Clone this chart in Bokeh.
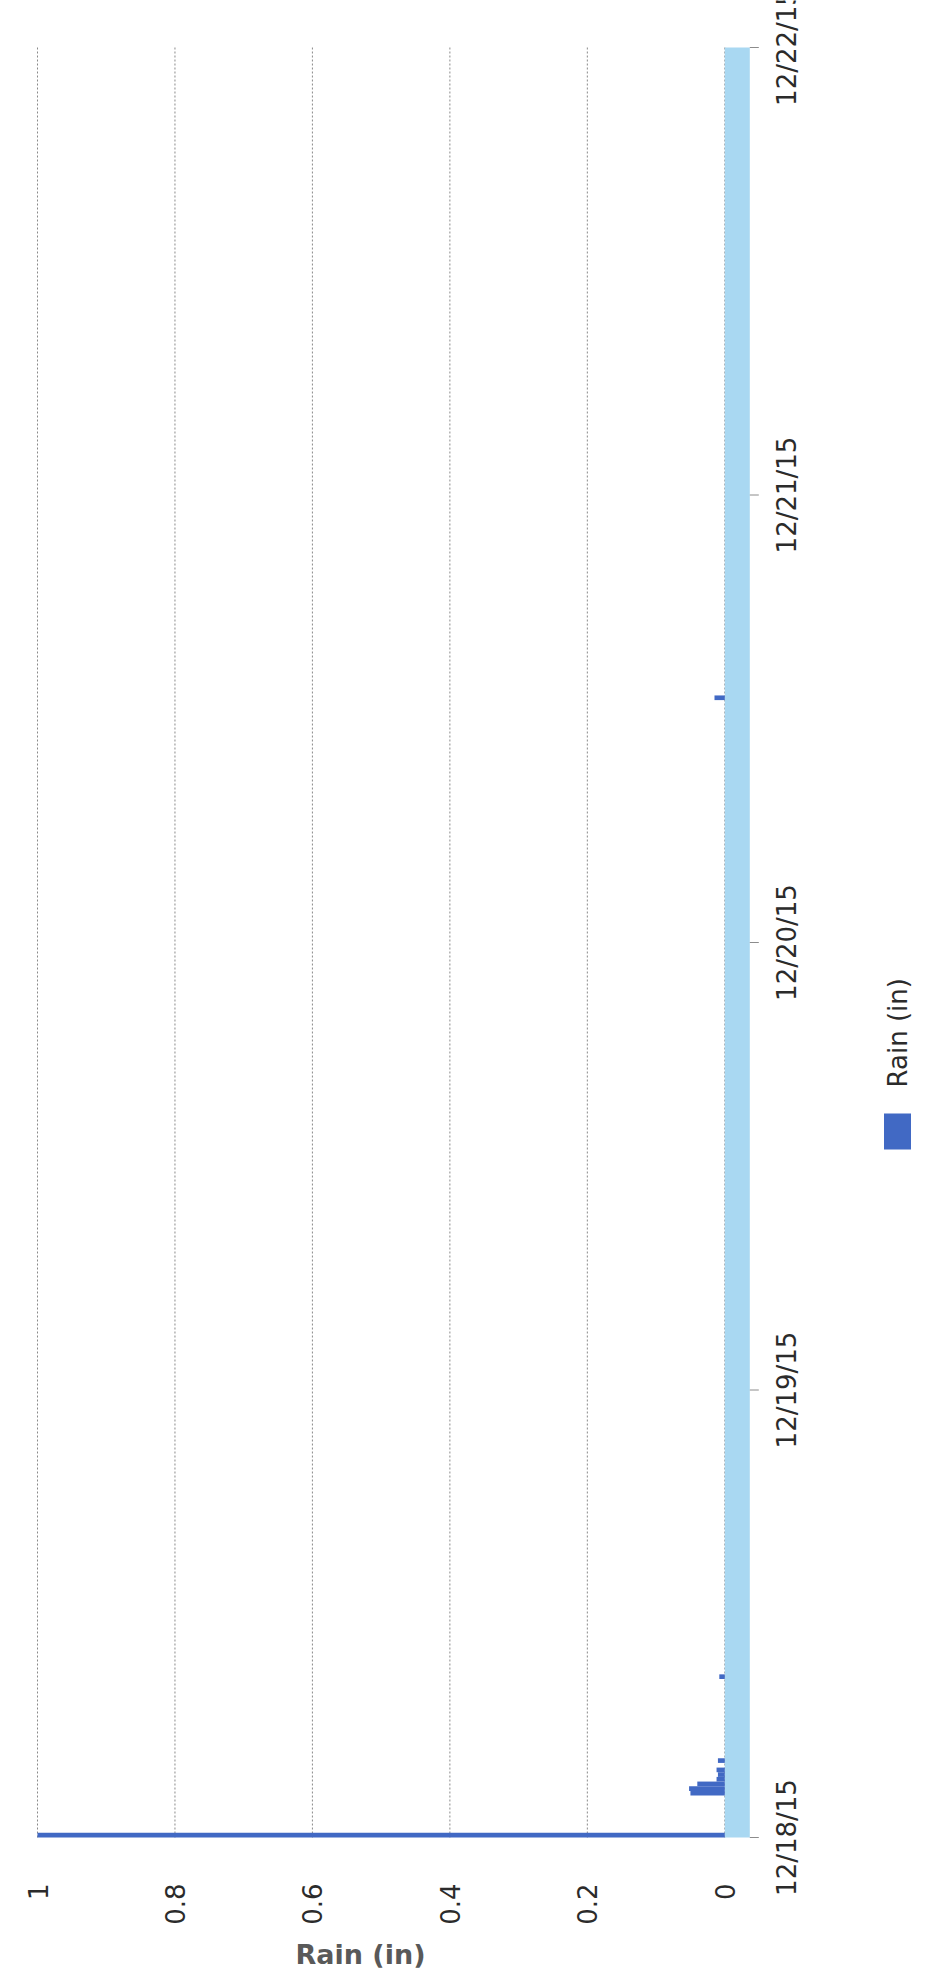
import datetime as dt
from math import pi

from bokeh.plotting import figure
from bokeh.models import Range1d, ColumnDataSource
from bokeh.embed import file_html
from bokeh.resources import INLINE
from bokeh.core.properties import value

# ---------------- data ----------------
series_name = "Rain (in)"
axis_title = "Rain (in)"
rain_times = [
    "2015-12-18 00:00",
    "2015-12-18 02:15",
    "2015-12-18 02:30",
    "2015-12-18 02:45",
    "2015-12-18 03:00",
    "2015-12-18 03:15",
    "2015-12-18 03:30",
    "2015-12-18 04:00",
    "2015-12-18 08:30",
    "2015-12-20 13:00",
]
rain_values = [1.0, 0.05, 0.052, 0.04, 0.012, 0.01, 0.012, 0.01, 0.008, 0.015]
interval_minutes = 15
axis_start = "2015-12-18 00:00"
axis_end = "2015-12-22 00:00"
date_ticks = ["2015-12-18 00:00", "2015-12-19 00:00", "2015-12-20 00:00",
              "2015-12-21 00:00", "2015-12-22 00:00"]
date_tick_labels = ["12/18/15", "12/19/15", "12/20/15", "12/21/15", "12/22/15"]
value_ticks = [0, 0.2, 0.4, 0.6, 0.8, 1]
value_tick_labels = ["0", "0.2", "0.4", "0.6", "0.8", "1"]

# ---------------- layout (page pixels) ----------------
FMT = "%Y-%m-%d %H:%M"
FIG_W, FIG_H = 914, 1970
PAGE_LEFT, PAGE_TOP = 8, 8
PAGE_RIGHT, PAGE_BOTTOM = PAGE_LEFT + FIG_W, PAGE_TOP + FIG_H
VALUE1_PX = 45              # page x of value 1.0
PX_PER_UNIT = 687.3         # pixels per 1.0 inch of rain
DATE0_PX = 1845             # page y of the first date
PX_PER_DAY = 447.5

start = dt.datetime.strptime(axis_start, FMT)
end = dt.datetime.strptime(axis_end, FMT)


def vx(px):
    """page x -> rain value (axis runs right-to-left)"""
    return 1.0 - (px - VALUE1_PX) / PX_PER_UNIT


def ty(py):
    """page y -> datetime (time runs bottom-to-top)"""
    return start + dt.timedelta(days=(DATE0_PX - py) / PX_PER_DAY)


interval = dt.timedelta(minutes=interval_minutes)
bar_centers = [dt.datetime.strptime(t, FMT) + interval / 2 for t in rain_times]
bar_height_ms = interval.total_seconds() * 1000.0
tick_dates = [dt.datetime.strptime(t, FMT) for t in date_ticks]

BAR_COLOR = "#4169c4"
BAND_COLOR = "#a9d8f2"
BAND_W = 25 / PX_PER_UNIT
TICK_LEN = 9 / PX_PER_UNIT
FONT = "DejaVu Sans"
TEXT_COLOR = "#2b2b2b"
GRID_COLOR = "#8a8a8a"

p = figure(
    width=FIG_W, height=FIG_H,
    x_range=Range1d(vx(PAGE_LEFT), vx(PAGE_RIGHT)),
    y_range=Range1d(ty(PAGE_BOTTOM), ty(PAGE_TOP)),
    x_axis_location=None, y_axis_location=None,
    output_backend="svg", toolbar_location=None,
    min_border_left=0, min_border_right=0,
    min_border_top=0, min_border_bottom=0,
)
p.outline_line_color = None
p.background_fill_color = "white"
p.border_fill_color = "white"
p.xgrid.visible = False
p.ygrid.visible = False

# dotted value gridlines, spanning the date range only
n = len(value_ticks)
p.segment(x0=value_ticks, x1=value_ticks, y0=[start] * n, y1=[end] * n,
          line_color=GRID_COLOR, line_dash="2 2", line_width=1)

# light blue band along the category axis
p.quad(left=[0], right=[-BAND_W], bottom=[start], top=[end],
       fill_color=BAND_COLOR, line_color=None)

# rain bars
src = ColumnDataSource(dict(y=bar_centers, right=rain_values))
p.hbar(y="y", left=0, right="right", height=bar_height_ms, source=src,
       fill_color=BAR_COLOR, line_color=None)

# date axis: tick marks + labels centred on ticks (rotated chart)
m = len(tick_dates)
p.segment(x0=[-BAND_W] * m, x1=[-BAND_W - TICK_LEN] * m, y0=tick_dates, y1=tick_dates,
          line_color="#8c8c8c", line_width=1)
p.text(x=[vx(794)] * m, y=tick_dates, text=date_tick_labels, angle=pi / 2,
       text_align="center", text_baseline="middle",
       text_font=value(FONT), text_font_size="26px", text_color=TEXT_COLOR)

# value axis labels (rotated), ending 46px below the first date
p.text(x=value_ticks, y=[ty(DATE0_PX + 46)] * n, text=value_tick_labels, angle=pi / 2,
       text_align="right", text_baseline="middle",
       text_font=value(FONT), text_font_size="26px", text_color=TEXT_COLOR)

# value axis title
p.text(x=[vx(368)], y=[ty(1962)], text=[axis_title],
       text_align="center", text_baseline="middle",
       text_font=value(FONT), text_font_size="27px", text_font_style="bold",
       text_color="#595959")

# legend (rotated like the chart)
p.rect(x=[vx(905)], y=[ty(1139)], width=27, height=36,
       width_units="screen", height_units="screen",
       fill_color=BAR_COLOR, line_color=None)
p.text(x=[vx(905)], y=[ty(1095)], text=[series_name], angle=pi / 2,
       text_align="left", text_baseline="middle",
       text_font=value(FONT), text_font_size="26px", text_color=TEXT_COLOR)

open("out.html", "w").write(file_html(p, INLINE))
